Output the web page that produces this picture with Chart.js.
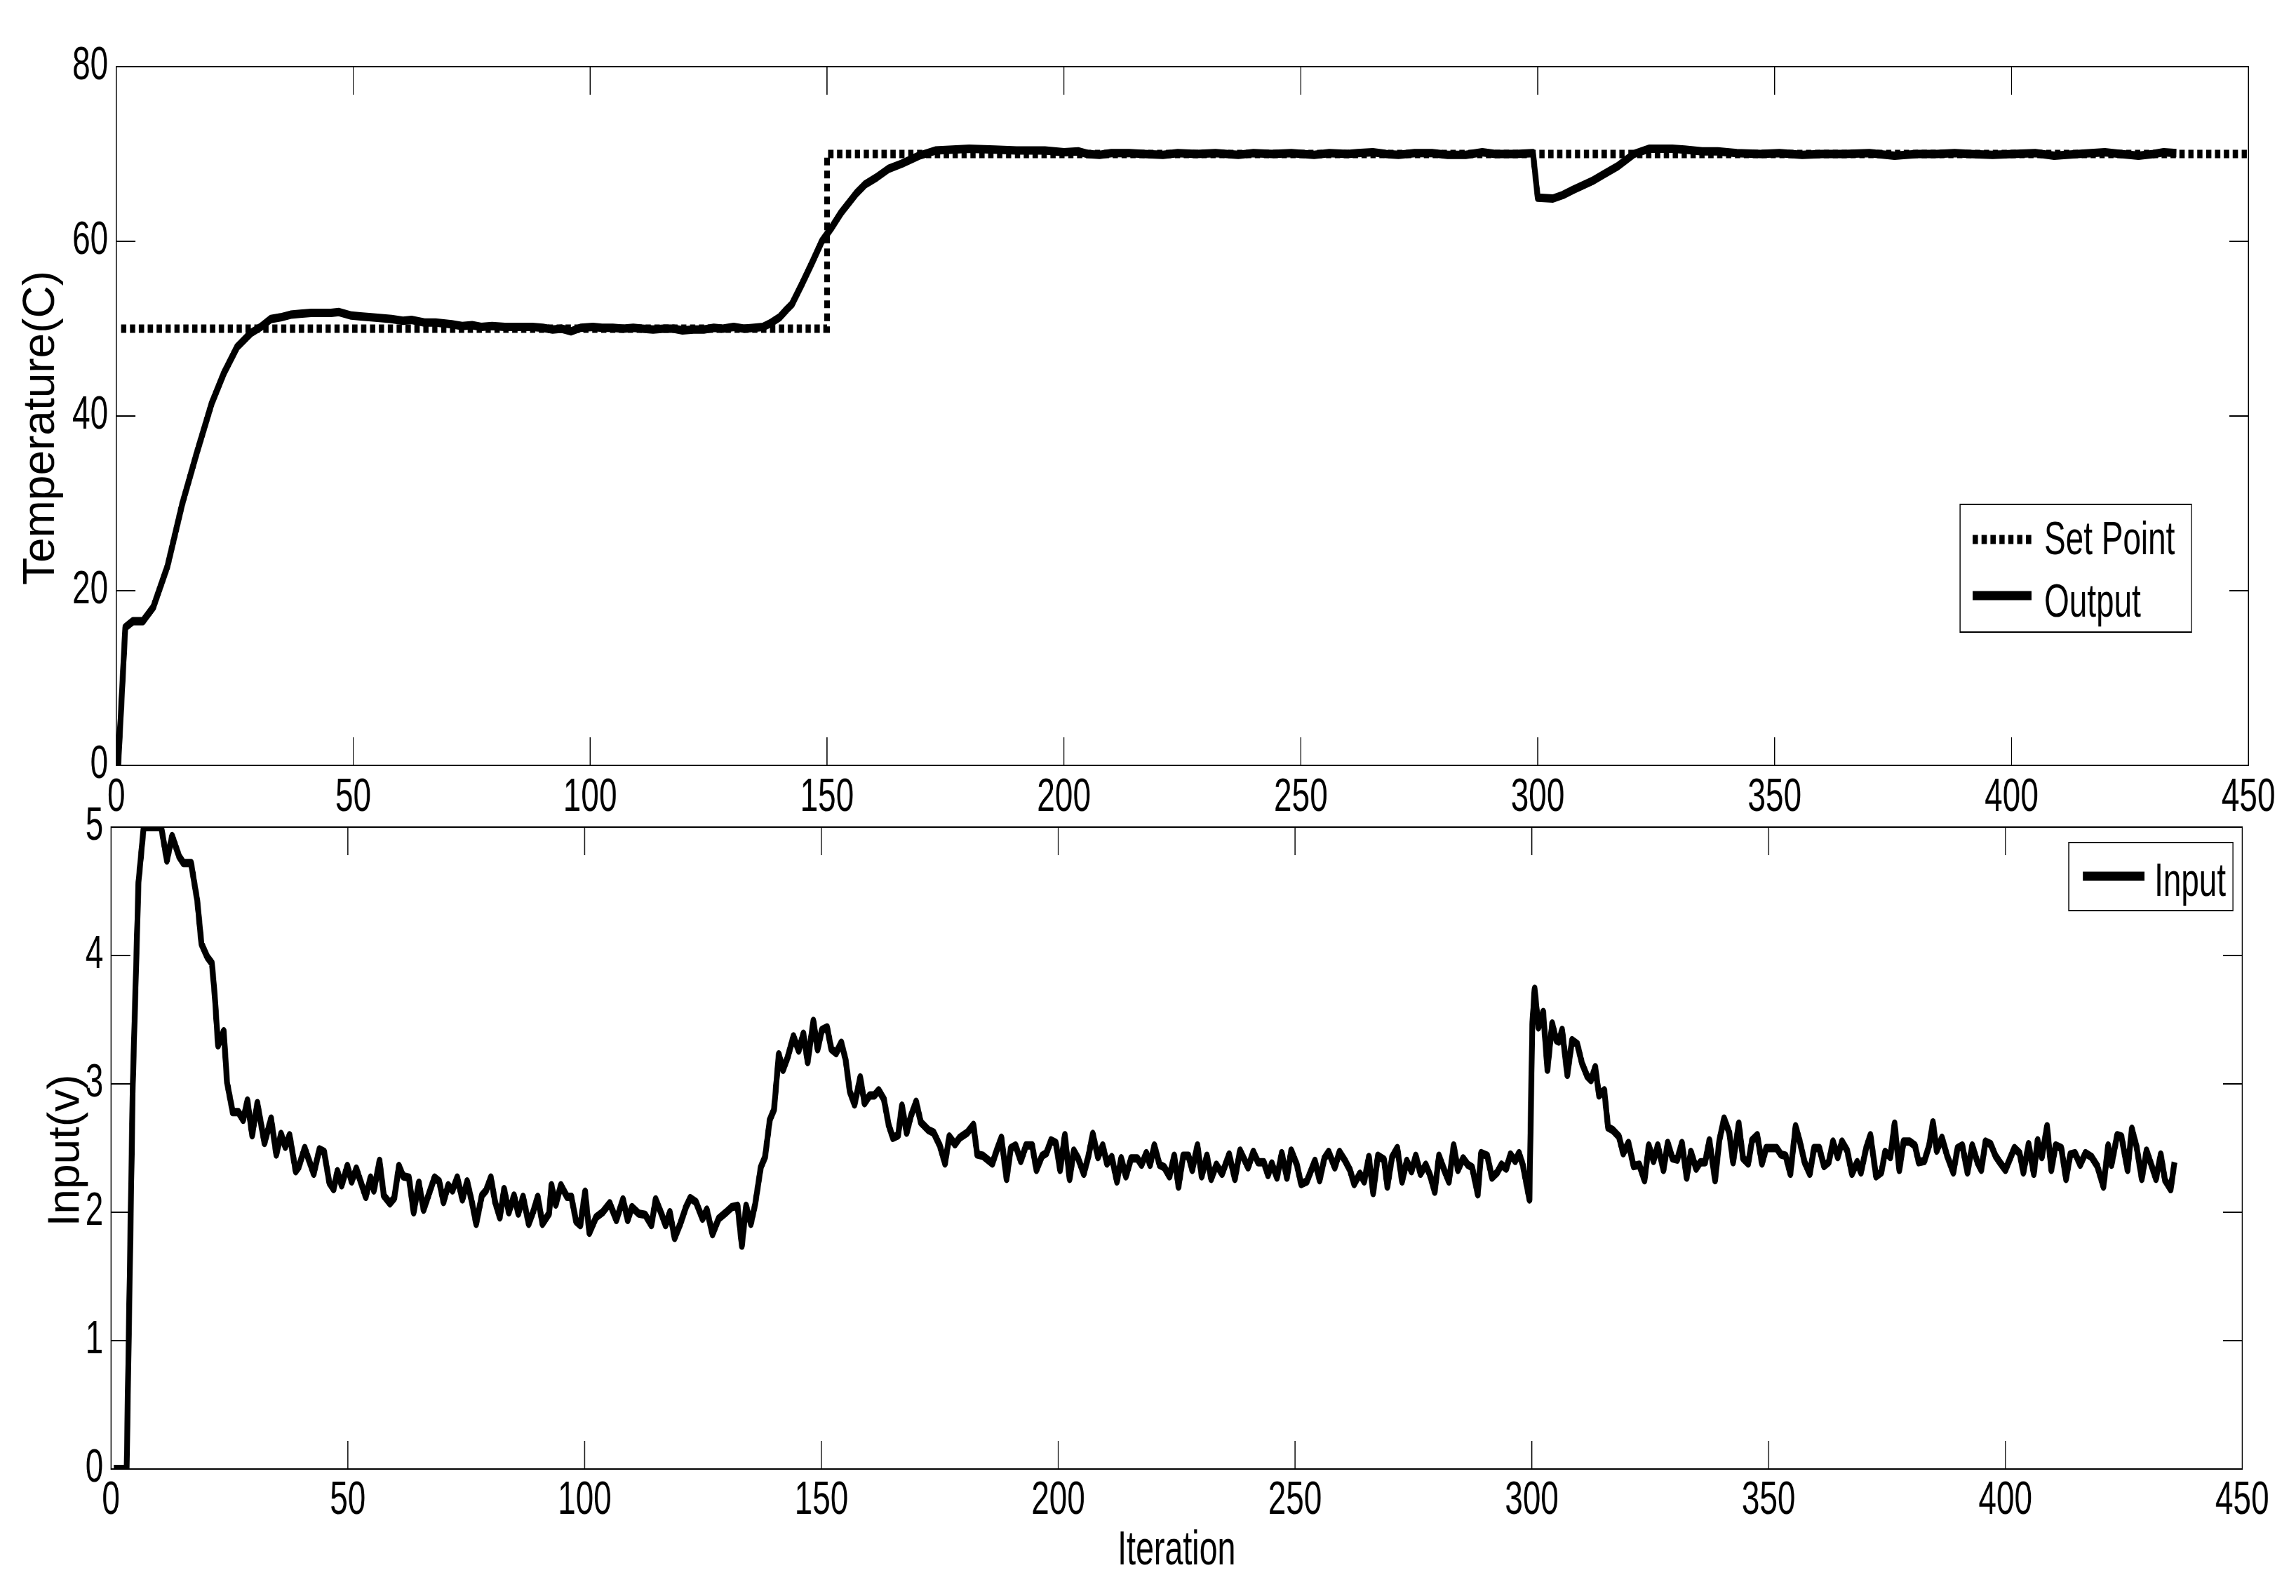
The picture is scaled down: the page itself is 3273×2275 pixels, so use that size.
<!DOCTYPE html>
<html>
<head>
<meta charset="utf-8">
<script src="https://cdn.jsdelivr.net/npm/chart.js@4.4.1/dist/chart.umd.min.js"></script>
<style>
  html, body { margin: 0; padding: 0; background: #fff; }
  body { width: 3273px; height: 2275px; position: relative; overflow: hidden; }
  canvas { position: absolute; left: 0; }
</style>
</head>
<body>
<canvas id="topChart" width="4778" height="1170" style="top:0px;width:3273px;height:1170px"></canvas>
<canvas id="bottomChart" width="4778" height="1175" style="top:1100px;width:3273px;height:1175px"></canvas>
<script>
// ---- data ----
const setPointIter = [1, 150, 150, 450];
const setPointTemp = [50, 50, 70, 70];

const outputIter = [
  0.4, 1.9, 3.5, 5.6, 7.8, 10.8, 13.9, 17, 20.1, 22.7,
  25.5, 28.4, 30.5, 32.6, 34.7, 36.8, 38.8, 41.1, 43, 45.3,
  47, 49.6, 51.5, 53.8, 56, 58.1, 60.5, 62.3, 65, 67.4,
  70.8, 73, 75.1, 77, 79.3, 82, 84.4, 87.8, 90, 92.1,
  94, 96, 98, 100.6, 102.5, 104.8, 107, 109.1, 111, 113.3,
  115.5, 117.6, 119.5, 121.8, 124, 126.1, 128, 130.3, 132.5, 134.6,
  136.5, 138, 140, 141.5, 142.6, 144.7, 146.8, 148.9, 151, 153,
  156.2, 158, 160.4, 163, 165.8, 169.4, 172.9, 176.5, 180, 185.4,
  190, 196, 200, 203, 205, 207.5, 210, 213.8, 217, 220.9,
  224, 228, 232, 236.8, 240, 244, 248, 252.8, 256, 259.9,
  262, 265.2, 268, 270.6, 274, 277.7, 281, 284.8, 288.3, 291,
  295.4, 299, 300, 303.2, 305.3, 307.5, 309.5, 311.5, 313.7, 316.9,
  320.3, 323.5, 328.4, 331, 334.7, 338, 342, 347, 351, 355.8,
  360, 364.7, 370, 375.3, 380, 384.2, 388, 391.3, 396, 400.2,
  405, 409, 414, 419.7, 423, 426.8, 430, 432.1, 434.8
];
const outputTemp = [
  0, 15.8, 16.5, 16.5, 18.1, 22.8, 29.9, 35.8, 41.4, 44.9,
  47.9, 49.5, 50.2, 51.1, 51.3, 51.6, 51.7, 51.8, 51.8, 51.8,
  51.9, 51.5, 51.4, 51.3, 51.2, 51.1, 50.9, 51.0, 50.7, 50.7,
  50.5, 50.3, 50.4, 50.2, 50.3, 50.2, 50.2, 50.2, 50.1, 49.9,
  50.0, 49.7, 50.1, 50.2, 50.1, 50.1, 50.0, 50.1, 50.0, 49.9,
  50.0, 50.0, 49.8, 49.9, 49.9, 50.1, 50.0, 50.2, 50.0, 50.1,
  50.2, 50.6, 51.3, 52.2, 52.8, 55.1, 57.5, 60.0, 61.6, 63.3,
  65.5, 66.5, 67.3, 68.3, 68.9, 69.8, 70.4, 70.5, 70.6, 70.5,
  70.4, 70.4, 70.2, 70.3, 70.0, 69.9, 70.1, 70.1, 70.0, 69.9,
  70.1, 70.0, 70.1, 69.9, 70.1, 70.0, 70.1, 69.9, 70.1, 70.0,
  70.1, 70.2, 70.0, 69.9, 70.1, 70.1, 69.9, 69.9, 70.2, 70.0,
  70.0, 70.1, 65.0, 64.9, 65.3, 65.9, 66.4, 66.9, 67.6, 68.6,
  70.0, 70.6, 70.6, 70.5, 70.3, 70.3, 70.1, 70.0, 70.1, 69.9,
  70.0, 70.0, 70.1, 69.8, 70.0, 70.0, 70.1, 70.0, 69.9, 70.0,
  70.1, 69.8, 70.0, 70.2, 70.0, 69.8, 70.0, 70.2, 70.1
];

const inputIter = [
  0.6, 3.3, 4.6, 5.8, 6.9, 10.6, 11.8, 12.9, 14.4, 15.3,
  16.9, 18.2, 19.1, 20.3, 21.3, 21.9, 22.6, 23.8, 24.5, 25.7,
  26.9, 27.9, 28.8, 29.8, 30.9, 32.4, 33.8, 34.9, 35.9, 36.8,
  37.7, 39.0, 39.6, 40.9, 42.8, 44.0, 45.0, 46.1, 47.0, 47.8,
  48.7, 49.9, 50.8, 51.8, 52.7, 53.8, 54.8, 55.5, 56.7, 57.6,
  58.9, 59.8, 60.8, 61.7, 62.9, 63.9, 65.0, 66.0, 67.1, 68.3,
  69.3, 70.2, 71.2, 72.1, 73.1, 74.2, 75.2, 76.2, 77.1, 78.3,
  79.2, 80.2, 81.1, 82.1, 83.0, 84.0, 85.1, 86.0, 87.0, 88.2,
  89.2, 90.1, 91.1, 92.5, 93.0, 93.9, 95.0, 96.3, 97.2, 98.2,
  99.1, 100.1, 101.0, 102.4, 103.8, 105.3, 106.7, 108.1, 109.1, 110.0,
  111.4, 112.8, 114.1, 115.0, 116.2, 117.1, 118.0, 119.0, 120.2, 121.4,
  122.3, 123.5, 124.9, 125.8, 127.0, 128.3, 129.9, 131.1, 132.3, 133.2,
  134.1, 135.1, 136.0, 137.2, 138.1, 139.1, 140.0, 141.0, 141.9, 142.9,
  144.1, 145.2, 146.2, 147.1, 148.3, 149.2, 150.1, 151.2, 152.1, 153.1,
  154.2, 155.1, 156.0, 157.0, 158.2, 159.1, 160.2, 161.2, 162.1, 163.2,
  164.2, 165.1, 166.2, 167.0, 168.0, 168.9, 170.0, 171.0, 172.6, 173.7,
  175.0, 176.1, 177.0, 178.2, 179.2, 180.8, 182.1, 182.9, 184.1, 185.1,
  186.1, 187.0, 188.0, 189.1, 190.0, 191.0, 192.1, 193.2, 194.5, 195.4,
  196.6, 197.5, 198.5, 199.5, 200.4, 201.4, 202.4, 203.3, 204.2, 205.4,
  206.4, 207.3, 208.4, 209.4, 210.3, 211.3, 212.4, 213.3, 214.3, 215.4,
  216.7, 217.6, 218.6, 219.4, 220.3, 221.4, 222.4, 223.5, 224.5, 225.4,
  226.4, 227.5, 228.3, 229.4, 230.3, 231.4, 232.3, 233.4, 234.6, 236.1,
  237.3, 238.4, 240.1, 241.2, 242.2, 243.4, 244.3, 245.1, 246.2, 247.2,
  248.3, 249.2, 250.4, 251.3, 252.5, 254.2, 255.2, 256.2, 257.1, 258.4,
  259.4, 260.6, 261.6, 262.5, 263.7, 264.6, 265.6, 266.5, 267.5, 268.8,
  269.5, 270.5, 271.6, 272.6, 273.6, 274.6, 275.5, 276.5, 277.6, 278.5,
  279.5, 280.4, 281.6, 282.5, 283.5, 284.4, 285.5, 286.5, 287.4, 288.6,
  289.3, 290.6, 291.6, 292.7, 293.6, 294.6, 295.5, 296.5, 297.3, 298.1,
  299.5, 300.1, 300.6, 301.4, 302.4, 303.3, 304.3, 305.2, 305.7, 306.4,
  307.5, 308.5, 309.6, 310.6, 311.7, 312.5, 313.4, 314.2, 315.3, 316.1,
  317.1, 318.4, 319.3, 320.4, 321.5, 322.7, 323.8, 324.7, 325.7, 326.6,
  327.8, 328.7, 329.7, 330.7, 331.7, 332.7, 333.6, 334.7, 335.6, 336.6,
  337.5, 338.7, 339.6, 340.6, 341.7, 342.5, 343.7, 344.6, 345.7, 346.5,
  347.6, 348.6, 349.5, 350.5, 351.7, 352.6, 353.6, 354.6, 355.7, 356.6,
  357.6, 358.7, 359.6, 360.7, 361.7, 362.7, 363.6, 364.6, 365.5, 366.6,
  367.6, 368.7, 369.5, 370.6, 371.5, 372.7, 373.8, 374.6, 375.7, 376.6,
  377.6, 378.5, 379.8, 380.9, 381.7, 382.9, 383.9, 384.7, 385.5, 386.6,
  387.7, 389.0, 389.9, 390.9, 392.0, 393.0, 394.1, 394.9, 395.8, 396.9,
  397.9, 398.8, 400.0, 401.0, 401.9, 403.0, 403.8, 404.9, 406.0, 406.8,
  407.7, 408.8, 409.7, 410.6, 411.8, 412.8, 413.7, 414.7, 415.8, 416.9,
  418.2, 419.4, 420.7, 421.7, 422.4, 423.6, 424.5, 425.8, 426.7, 427.7,
  428.8, 429.8, 430.9, 431.8, 432.8, 433.7, 434.9, 435.7
];
const inputVolt = [
  0, 0, 3.0, 4.57, 5.0, 5.0, 4.74, 4.93, 4.77, 4.72,
  4.72, 4.43, 4.09, 3.99, 3.94, 3.69, 3.30, 3.41, 3.01, 2.78,
  2.78, 2.72, 2.87, 2.60, 2.85, 2.54, 2.73, 2.45, 2.61, 2.51,
  2.60, 2.32, 2.35, 2.50, 2.30, 2.49, 2.47, 2.23, 2.18, 2.32,
  2.21, 2.36, 2.24, 2.34, 2.24, 2.12, 2.27, 2.17, 2.40, 2.13,
  2.07, 2.11, 2.36, 2.28, 2.27, 2.00, 2.23, 2.02, 2.14, 2.27,
  2.24, 2.08, 2.21, 2.17, 2.27, 2.10, 2.24, 2.08, 1.91, 2.13,
  2.17, 2.27, 2.08, 1.96, 2.18, 2.00, 2.13, 1.99, 2.12, 1.91,
  2.01, 2.12, 1.91, 1.99, 2.21, 2.06, 2.21, 2.12, 2.12, 1.93,
  1.90, 2.16, 1.84, 1.96, 2.00, 2.07, 1.94, 2.10, 1.94, 2.04,
  1.99, 1.98, 1.90, 2.10, 1.99, 1.90, 2.00, 1.80, 1.91, 2.04,
  2.11, 2.08, 1.95, 2.02, 1.83, 1.95, 2.00, 2.04, 2.05, 1.74,
  2.05, 1.91, 2.06, 2.35, 2.43, 2.72, 2.80, 3.23, 3.11, 3.21,
  3.37, 3.26, 3.39, 3.17, 3.49, 3.27, 3.42, 3.44, 3.27, 3.24,
  3.32, 3.19, 2.94, 2.84, 3.05, 2.85, 2.91, 2.91, 2.95, 2.88,
  2.68, 2.58, 2.60, 2.83, 2.62, 2.75, 2.86, 2.70, 2.64, 2.62,
  2.52, 2.38, 2.59, 2.53, 2.58, 2.62, 2.68, 2.45, 2.44, 2.41,
  2.38, 2.48, 2.58, 2.26, 2.50, 2.52, 2.40, 2.52, 2.52, 2.33,
  2.44, 2.46, 2.56, 2.54, 2.33, 2.60, 2.26, 2.48, 2.42, 2.30,
  2.44, 2.61, 2.43, 2.52, 2.38, 2.43, 2.24, 2.42, 2.28, 2.42,
  2.42, 2.37, 2.46, 2.37, 2.52, 2.37, 2.35, 2.28, 2.44, 2.20,
  2.44, 2.44, 2.33, 2.52, 2.28, 2.44, 2.26, 2.37, 2.30, 2.45,
  2.26, 2.48, 2.35, 2.47, 2.39, 2.39, 2.29, 2.38, 2.27, 2.46,
  2.27, 2.48, 2.37, 2.22, 2.24, 2.40, 2.25, 2.42, 2.47, 2.35,
  2.47, 2.40, 2.33, 2.22, 2.30, 2.24, 2.43, 2.15, 2.44, 2.41,
  2.20, 2.43, 2.50, 2.24, 2.40, 2.32, 2.44, 2.30, 2.37, 2.29,
  2.16, 2.44, 2.32, 2.24, 2.52, 2.33, 2.42, 2.37, 2.35, 2.14,
  2.46, 2.44, 2.27, 2.31, 2.37, 2.34, 2.45, 2.40, 2.46, 2.37,
  2.10, 3.46, 3.74, 3.44, 3.56, 3.11, 3.47, 3.34, 3.33, 3.42,
  3.07, 3.34, 3.31, 3.16, 3.06, 3.03, 3.13, 2.91, 2.95, 2.66,
  2.64, 2.59, 2.46, 2.54, 2.36, 2.37, 2.25, 2.52, 2.40, 2.52,
  2.33, 2.54, 2.42, 2.41, 2.54, 2.27, 2.47, 2.34, 2.39, 2.39,
  2.56, 2.25, 2.56, 2.73, 2.62, 2.39, 2.69, 2.42, 2.38, 2.56,
  2.60, 2.38, 2.50, 2.50, 2.50, 2.45, 2.44, 2.30, 2.67, 2.55,
  2.39, 2.30, 2.50, 2.50, 2.36, 2.39, 2.55, 2.43, 2.55, 2.48,
  2.30, 2.39, 2.31, 2.50, 2.60, 2.28, 2.31, 2.47, 2.43, 2.69,
  2.33, 2.55, 2.55, 2.52, 2.39, 2.40, 2.52, 2.70, 2.48, 2.58,
  2.44, 2.31, 2.50, 2.52, 2.31, 2.52, 2.39, 2.33, 2.55, 2.53,
  2.44, 2.39, 2.33, 2.42, 2.50, 2.46, 2.31, 2.53, 2.30, 2.56,
  2.43, 2.67, 2.33, 2.52, 2.50, 2.26, 2.45, 2.46, 2.37, 2.46,
  2.43, 2.36, 2.20, 2.52, 2.37, 2.60, 2.59, 2.33, 2.65, 2.51,
  2.26, 2.48, 2.36, 2.26, 2.45, 2.25, 2.18, 2.39
];

const xTicks = {min: 0, max: 450, step: 50};
const tempTicks = {min: 0, max: 80, step: 20};
const voltTicks = {min: 0, max: 5, step: 1};

// ---- drawing setup ----
// the source figure is squeezed sideways, so the canvas is drawn wide
// and shown at 3273px; x positions below are in screen pixels
const SQ = 0.685;
const W = 4778;
const FAMILY = "'Liberation Sans', Arial, Helvetica, sans-serif";
const TICK = 40;
const LINE_W = 12;
const px = v => v / SQ;

function xy(xs, ys) {
  const n = Math.min(xs.length, ys.length);
  const out = [];
  for (let i = 0; i < n; i++) out.push({x: xs[i], y: ys[i]});
  return out;
}

const tickFont = {family: FAMILY, size: 67, lineHeight: 1.2};

// box round the plot, ticks pointing inwards on all four sides
const boxTicks = {
  id: 'boxTicks',
  afterDraw(chart) {
    const {ctx, chartArea: a, scales: {x, y}} = chart;
    ctx.save();
    ctx.strokeStyle = '#000';
    ctx.lineWidth = 2;
    ctx.beginPath();
    x.ticks.forEach(t => {
      const p = x.getPixelForValue(t.value);
      ctx.moveTo(p, a.bottom); ctx.lineTo(p, a.bottom - TICK);
      ctx.moveTo(p, a.top); ctx.lineTo(p, a.top + TICK);
    });
    y.ticks.forEach(t => {
      const p = y.getPixelForValue(t.value);
      ctx.moveTo(a.left, p); ctx.lineTo(a.left + TICK, p);
      ctx.moveTo(a.right, p); ctx.lineTo(a.right - TICK, p);
    });
    ctx.stroke();
    ctx.strokeRect(a.left, a.top, a.right - a.left, a.bottom - a.top);
    ctx.restore();
  }
};

// rotated y title, drawn so it is not squeezed
const yTitle = {
  id: 'yTitle',
  afterDraw(chart, args, o) {
    const ctx = chart.ctx;
    ctx.save();
    ctx.translate(px(o.x), o.y);
    ctx.scale(1 / SQ, 1);
    ctx.rotate(-Math.PI / 2);
    ctx.font = '64px ' + FAMILY;
    ctx.fillStyle = '#000';
    ctx.textAlign = 'center';
    ctx.textBaseline = 'alphabetic';
    ctx.fillText(o.text, 0, 0);
    ctx.restore();
  }
};

// legend box inside the plot
const boxLegend = {
  id: 'boxLegend',
  afterDraw(chart, args, o) {
    const ctx = chart.ctx;
    const l = px(o.box[0]), t = o.box[1], r = px(o.box[2]), b = o.box[3];
    ctx.save();
    ctx.fillStyle = '#fff';
    ctx.fillRect(l, t, r - l, b - t);
    ctx.strokeStyle = '#000';
    ctx.lineWidth = 2;
    ctx.strokeRect(l, t, r - l, b - t);
    chart.data.datasets.forEach((ds, i) => {
      const row = o.rows[i];
      ctx.lineWidth = 13;
      ctx.lineCap = 'butt';
      ctx.setLineDash(ds.borderDash || []);
      ctx.beginPath();
      ctx.moveTo(px(o.line[0]), row[0]);
      ctx.lineTo(px(o.line[1]), row[0]);
      ctx.stroke();
      ctx.setLineDash([]);
      ctx.font = '67px ' + FAMILY;
      ctx.fillStyle = '#000';
      ctx.textAlign = 'left';
      ctx.textBaseline = 'alphabetic';
      ctx.fillText(ds.label, px(o.textX), row[1]);
    });
    ctx.restore();
  }
};

function xScale(height, pad, title) {
  return {
    type: 'linear', min: xTicks.min, max: xTicks.max,
    afterFit: s => { s.height = height; },
    ticks: {stepSize: xTicks.step, font: tickFont, color: '#000', padding: pad, maxRotation: 0, autoSkip: false},
    grid: {display: false, drawTicks: false},
    border: {display: false},
    title: title
  };
}

function yScale(range, width, pad) {
  return {
    type: 'linear', min: range.min, max: range.max,
    afterFit: s => { s.width = width; },
    ticks: {stepSize: range.step, font: tickFont, color: '#000', padding: pad},
    grid: {display: false, drawTicks: false},
    border: {display: false}
  };
}

new Chart(document.getElementById('topChart'), {
  type: 'line',
  data: {
    datasets: [
      {label: 'Set Point', data: xy(setPointIter, setPointTemp), borderColor: '#000',
       borderWidth: LINE_W, borderDash: [11, 7.5], pointRadius: 0, clip: 0},
      {label: 'Output', data: xy(outputIter, outputTemp), borderColor: '#000',
       borderWidth: LINE_W, borderJoinStyle: 'round', pointRadius: 0, clip: 0}
    ]
  },
  options: {
    responsive: false, devicePixelRatio: 1, animation: false,
    layout: {padding: {left: 0, top: 95, right: W - Math.round(px(3205)), bottom: 0}},
    plugins: {
      legend: {display: false}, tooltip: {enabled: false},
      yTitle: {text: 'Temperature(C)', x: 77, y: 610},
      boxLegend: {box: [2794, 719, 3124, 901], line: [2812, 2896], textX: 2914,
                  rows: [[769, 790], [849, 879]]}
    },
    scales: {
      x: xScale(79, 6, {display: false}),
      y: yScale(tempTicks, Math.round(px(166)), 17)
    }
  },
  plugins: [boxTicks, yTitle, boxLegend]
});

new Chart(document.getElementById('bottomChart'), {
  type: 'line',
  data: {
    datasets: [
      {label: 'Input', data: xy(inputIter, inputVolt), borderColor: '#000',
       borderWidth: LINE_W, borderJoinStyle: 'round', pointRadius: 0, clip: 0}
    ]
  },
  options: {
    responsive: false, devicePixelRatio: 1, animation: false,
    layout: {padding: {left: 0, top: 79, right: W - Math.round(px(3196)), bottom: 0}},
    plugins: {
      legend: {display: false}, tooltip: {enabled: false},
      yTitle: {text: 'Input(v)', x: 112, y: 540},
      boxLegend: {box: [2949, 101, 3183, 198], line: [2969, 3057], textX: 3071,
                  rows: [[149, 177]]}
    },
    scales: {
      x: xScale(181, 5, {display: true, text: 'Iteration', color: '#000',
                         font: {family: FAMILY, size: 68, lineHeight: 1.2},
                         padding: {top: 0, bottom: 23}}),
      y: yScale(voltTicks, Math.round(px(158.5)), 16)
    }
  },
  plugins: [boxTicks, yTitle, boxLegend]
});
</script>
</body>
</html>
